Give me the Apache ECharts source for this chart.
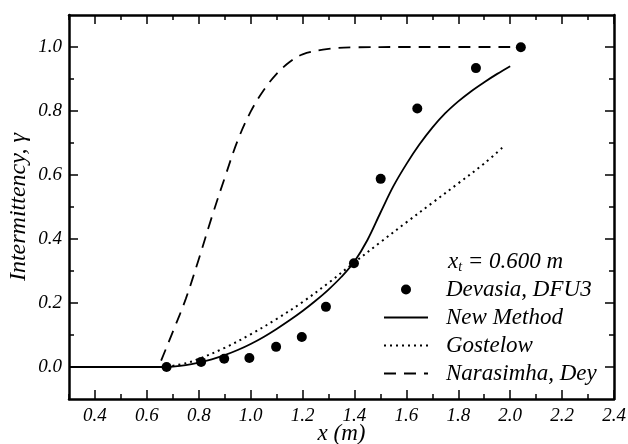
<!DOCTYPE html>
<html lang="en">
<head>
    <meta charset="UTF-8">
    <title>Intermittency</title>
    <script src="https://cdn.jsdelivr.net/npm/echarts@6/dist/echarts.min.js"></script>
    <style>
        body { margin: 0; background: #fff; }
        #main { width: 628px; height: 444px; }
    </style>
</head>
<body>
<div id="main"></div>
<script>
    // measured points, Devasia DFU3
    var devasiaX = [0.676, 0.809, 0.898, 0.995, 1.098, 1.197, 1.290, 1.398, 1.501, 1.642, 1.868, 2.041];
    var devasiaY = [0.0, 0.016, 0.026, 0.028, 0.063, 0.094, 0.188, 0.324, 0.588, 0.808, 0.934, 0.999];

    // new method
    var newX = [0.3, 0.6, 0.676, 0.7, 0.75, 0.8, 0.85, 0.9, 0.95, 1.0, 1.05, 1.1, 1.15, 1.2, 1.25, 1.3, 1.35, 1.4, 1.45, 1.5,
                1.55, 1.6, 1.65, 1.7, 1.75, 1.8, 1.85, 1.9, 1.95, 2.0];
    var newY = [0, 0, 0, 0.001, 0.006, 0.014, 0.024, 0.037, 0.053, 0.072, 0.094, 0.119, 0.146, 0.175, 0.207, 0.242, 0.282, 0.33, 0.397, 0.482,
                0.565, 0.634, 0.695, 0.748, 0.793, 0.83, 0.862, 0.89, 0.916, 0.94];

    // gostelow
    var gosX = [0.676, 0.75, 0.8, 0.9, 1.0, 1.1, 1.2, 1.3, 1.4, 1.5, 1.6, 1.7, 1.8, 1.9, 1.98];
    var gosY = [0, 0.012, 0.025, 0.06, 0.102, 0.15, 0.203, 0.263, 0.327, 0.39, 0.452, 0.513, 0.574, 0.636, 0.693];

    // narasimha, dey
    var narX = [0.655, 0.7, 0.75, 0.8, 0.85, 0.9, 0.95, 1.0, 1.05, 1.1, 1.15, 1.2, 1.3, 1.4, 1.6, 1.8, 2.0];
    var narY = [0.02, 0.11, 0.213, 0.337, 0.468, 0.591, 0.708, 0.798, 0.865, 0.916, 0.953, 0.977, 0.994, 0.999, 1.0, 1.0, 1.0];

    var xMajor = [0.4, 0.6, 0.8, 1.0, 1.2, 1.4, 1.6, 1.8, 2.0, 2.2, 2.4];
    var xMinor = [0.3, 0.5, 0.7, 0.9, 1.1, 1.3, 1.5, 1.7, 1.9, 2.1, 2.3];
    var yMajor = [0.0, 0.2, 0.4, 0.6, 0.8, 1.0];
    var yMinor = [0.1, 0.3, 0.5, 0.7, 0.9];

    function pairs(xs, ys) {
        var out = [];
        for (var i = 0; i < xs.length; i++) out.push([xs[i], ys[i]]);
        return out;
    }

    var serif = 'Liberation Serif';
    var black = '#000';

    function tickAxis(pos, ticks, len, isX, showLine, labels) {
        var ax = {
            type: 'value',
            position: pos,
            min: isX ? 0.3 : -0.1,
            max: isX ? 2.4 : 1.1,
            axisLine: { show: showLine, onZero: false, lineStyle: { color: black, width: 2.5 } },
            axisTick: { show: true, inside: true, length: len, customValues: ticks, lineStyle: { color: black, width: 1.5 } },
            axisLabel: { show: false },
            splitLine: { show: false }
        };
        if (labels) {
            ax.axisLabel = {
                show: true,
                customValues: labels,
                formatter: function (v) { return v.toFixed(1); },
                fontFamily: serif, fontStyle: 'italic', fontSize: 19, color: black,
                margin: 7
            };
        }
        return ax;
    }

    var xMain = tickAxis('bottom', xMajor, 9, true, true, xMajor);
    xMain.name = 'x (m)';
    xMain.nameLocation = 'middle';
    xMain.nameGap = 23;
    xMain.nameMoveOverlap = false;
    xMain.nameTextStyle = { fontFamily: serif, fontStyle: 'italic', fontSize: 23, color: black };

    var yMain = tickAxis('left', yMajor, 9, false, true, yMajor);
    yMain.name = 'Intermittency, γ';
    yMain.nameLocation = 'middle';
    yMain.nameGap = 38;
    yMain.nameMoveOverlap = false;
    yMain.nameTextStyle = { fontFamily: serif, fontStyle: 'italic', fontSize: 24, color: black };

    var hideSym = { opacity: 0 };

    function curve(name, xs, ys, dash, width) {
        return {
            name: name,
            type: 'line',
            showSymbol: false,
            symbol: 'none',
            smooth: 0.35,
            itemStyle: { color: black },
            lineStyle: { color: black, width: width, type: dash },
            data: pairs(xs, ys)
        };
    }

    var chart = echarts.init(document.getElementById('main'));
    var option = {
        animation: false,
        backgroundColor: '#fff',
        grid: { left: 69, top: 15, right: 14, bottom: 45, containLabel: false, outerBoundsMode: 'none' },
        title: {
            text: '{i|x}{s|t}{i| = 0.600 m}',
            left: 443,
            top: 245,
            textStyle: {
                rich: {
                    i: { fontFamily: serif, fontStyle: 'italic', fontWeight: 'normal', fontSize: 23, color: black },
                    s: { fontFamily: serif, fontStyle: 'italic', fontWeight: 'normal', fontSize: 14, color: black, verticalAlign: 'bottom', padding: [10, 0, 0, 0] }
                }
            }
        },
        legend: {
            orient: 'vertical',
            left: 378,
            top: 273,
            itemWidth: 44,
            itemHeight: 10,
            itemGap: 5,
            data: [
                { name: 'Devasia, DFU3' },
                { name: 'New Method', itemStyle: hideSym },
                { name: 'Gostelow', itemStyle: hideSym },
                { name: 'Narasimha, Dey', itemStyle: hideSym }
            ],
            textStyle: { fontFamily: serif, fontStyle: 'italic', fontSize: 23, color: black, padding: [0, 0, 0, 13] }
        },
        xAxis: [
            xMain,
            tickAxis('bottom', xMinor, 5, true, false),
            tickAxis('top', xMajor, 9, true, true),
            tickAxis('top', xMinor, 5, true, false)
        ],
        yAxis: [
            yMain,
            tickAxis('left', yMinor, 5, false, false),
            tickAxis('right', yMajor, 9, false, true),
            tickAxis('right', yMinor, 5, false, false)
        ],
        series: [
            {
                name: 'Devasia, DFU3',
                type: 'scatter',
                symbol: 'circle',
                symbolSize: 10,
                itemStyle: { color: black, opacity: 1 },
                data: pairs(devasiaX, devasiaY),
                z: 5
            },
            curve('New Method', newX, newY, 'solid', 1.8),
            curve('Gostelow', gosX, gosY, [2, 4], 2),
            curve('Narasimha, Dey', narX, narY, [12, 8], 1.8)
        ]
    };
    chart.setOption(option);
</script>
</body>
</html>
